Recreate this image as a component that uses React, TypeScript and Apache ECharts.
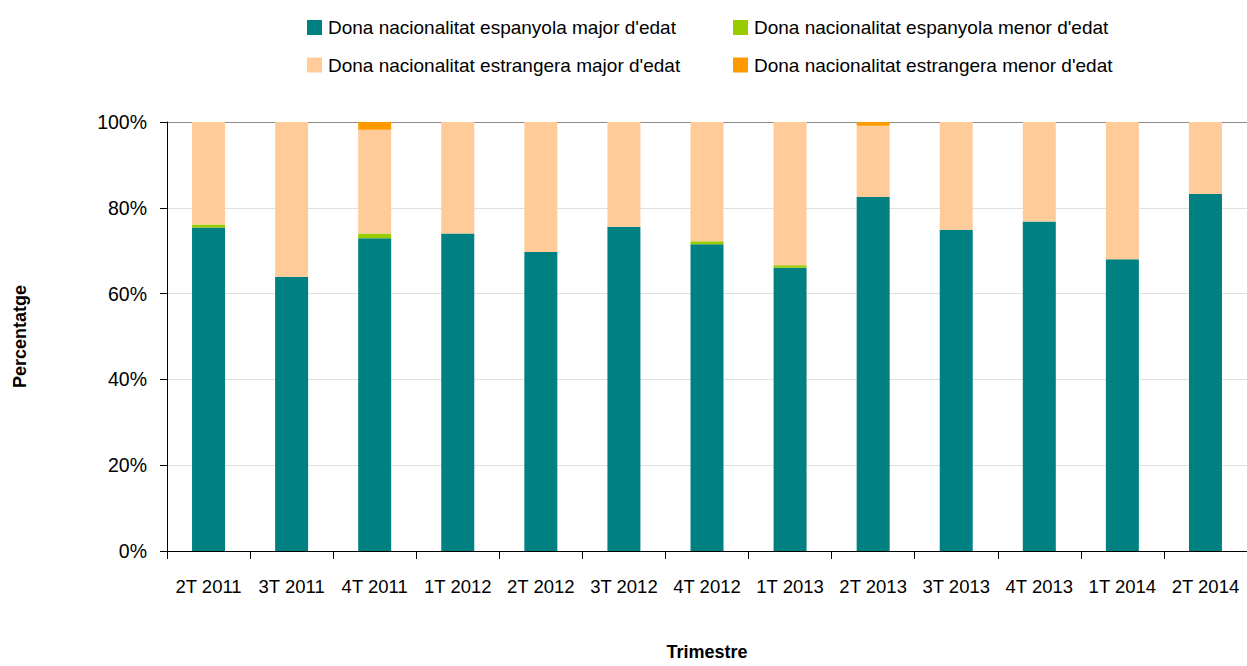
import React, { useEffect, useRef } from "react";
import * as echarts from "echarts";

const categories = ["2T 2011", "3T 2011", "4T 2011", "1T 2012", "2T 2012", "3T 2012", "4T 2012", "1T 2013", "2T 2013", "3T 2013", "4T 2013", "1T 2014", "2T 2014"];
const seriesNames = [
  "Dona nacionalitat espanyola major d'edat",
  "Dona nacionalitat espanyola menor d'edat",
  "Dona nacionalitat estrangera major d'edat",
  "Dona nacionalitat estrangera menor d'edat",
];
const espMajor = [75.4, 63.9, 72.9, 74.0, 69.7, 75.6, 71.5, 66.0, 82.5, 74.9, 76.8, 68.0, 83.2];
const espMenor = [0.7, 0, 1.1, 0, 0, 0, 0.7, 0.6, 0, 0, 0, 0, 0];
const estMajor = [23.9, 36.1, 24.2, 26.0, 30.3, 24.4, 27.8, 33.4, 16.6, 25.1, 23.2, 32.0, 16.8];
const estMenor = [0, 0, 1.8, 0, 0, 0, 0, 0, 0.9, 0, 0, 0, 0];
const yTicks = [0, 20, 40, 60, 80, 100];
const colors = ["#008080", "#99CC00", "#FFCC99", "#FF9900"];

const FONT = "'Liberation Sans', Arial, sans-serif";

export default function App() {
  const ref = useRef<HTMLDivElement>(null);
  useEffect(() => {
    const chart = echarts.init(ref.current!, null, { renderer: "svg" });
    const values = [espMajor, espMenor, estMajor, estMenor];
    const legendPos = [
      { left: 302, top: 13 },
      { left: 728, top: 13 },
      { left: 302, top: 50.5 },
      { left: 728, top: 50.5 },
    ];
    chart.setOption({
      animation: false,
      textStyle: { fontFamily: FONT },
      legend: seriesNames.map((n, i) => ({
        data: [n],
        left: legendPos[i].left,
        top: legendPos[i].top,
        icon: "rect",
        itemWidth: 15,
        itemHeight: 15,
        itemGap: 4,
        selectedMode: false,
        textStyle: { fontFamily: FONT, fontSize: 19, color: "#000", padding: [0, 0, 0, 1] },
      })),
      grid: { left: 167, top: 122, height: 435, width: 1086, containLabel: false },
      xAxis: {
        type: "category",
        data: categories,
        name: "Trimestre",
        nameLocation: "middle",
        nameGap: 92,
        nameTextStyle: { fontFamily: FONT, fontSize: 18, fontWeight: "bold", color: "#000" },
        axisLine: { lineStyle: { color: "#000", width: 1 } },
        axisTick: { show: true, length: 8, lineStyle: { color: "#000" }, alignWithLabel: false },
        axisLabel: { fontFamily: FONT, fontSize: 18.5, color: "#000", margin: 26, interval: 0 },
      },
      yAxis: {
        type: "value",
        min: 0,
        max: 100,
        interval: 20,
        name: "Percentatge",
        nameLocation: "middle",
        nameGap: 138,
        nameTextStyle: { fontFamily: FONT, fontSize: 18, fontWeight: "bold", color: "#000" },
        axisLine: { show: true, lineStyle: { color: "#000", width: 1 } },
        axisTick: { show: true, length: 7, lineStyle: { color: "#000" } },
        axisLabel: {
          fontFamily: FONT,
          fontSize: 19.5,
          color: "#000",
          margin: 20,
          formatter: (v: number) => (yTicks.includes(v) ? v + "%" : ""),
        },
        splitLine: {
          show: true,
          lineStyle: { color: ["#e0e0e0", "#e0e0e0", "#e0e0e0", "#e0e0e0", "#e0e0e0", "#8c8c8c"], width: 1 },
        },
      },
      series: seriesNames.map((n, i) => ({
        name: n,
        type: "bar",
        stack: "total",
        barWidth: 33,
        data: values[i],
        itemStyle: { color: colors[i] },
        emphasis: { disabled: true },
      })),
    });
    return () => chart.dispose();
  }, []);
  return <div ref={ref} style={{ width: 1247, height: 666, position: "absolute", left: 0, top: 0 }} />;
}
